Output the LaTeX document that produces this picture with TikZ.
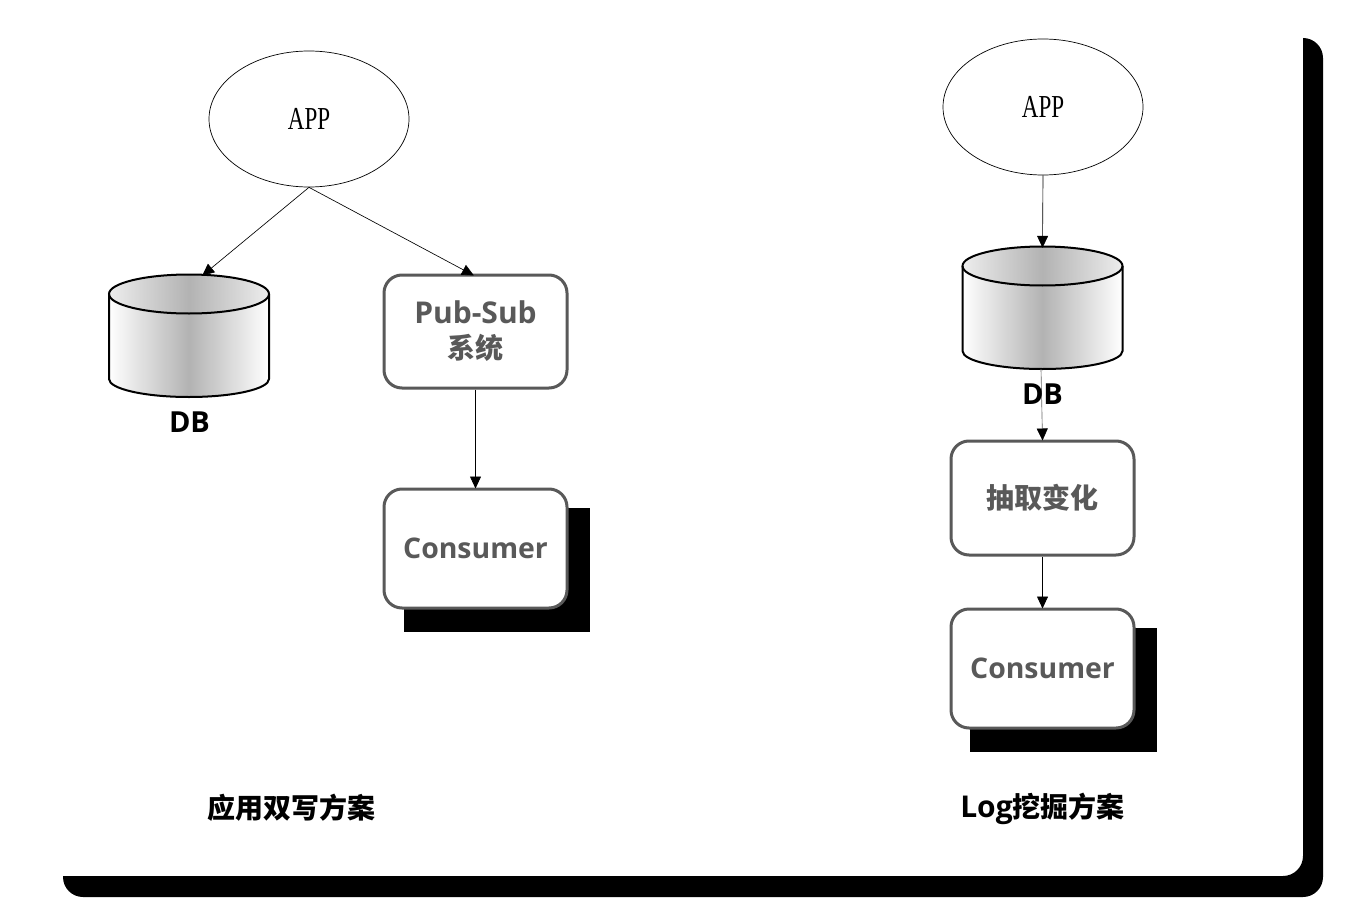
\documentclass[tikz,border=0pt]{standalone}
\usepackage{fontspec}
\setmainfont{Open Sans}
\newfontfamily\cjk{Noto Sans CJK SC}
\newfontfamily\appfont[FakeStretch=0.72]{Liberation Serif}
\usetikzlibrary{arrows.meta,shapes.geometric}
\definecolor{boxgrey}{HTML}{595959}
\tikzset{
  x=1pt,y=-1pt,
  conn/.style={draw=black,line width=0.65pt,shorten >=-1pt,-{Triangle[length=12pt,width=11pt,black]}},
  appnode/.style={ellipse,draw=black,line width=0.7pt,minimum width=200pt,minimum height=136pt,inner sep=0pt,font=\appfont\fontsize{32}{32}\selectfont},
  flowbox/.style={rectangle,rounded corners=18pt,draw=boxgrey,line width=3pt,fill=white,inner sep=0pt,text=boxgrey,align=center,font=\bfseries\fontsize{30}{36}\selectfont},
  dbzone/.style={rectangle,inner sep=0pt,minimum width=162pt,minimum height=122pt},
  dblabel/.style={inner sep=0pt,text=black,font=\bfseries\fontsize{29}{29}\selectfont},
  caption/.style={inner sep=0pt,text=black,font=\bfseries\fontsize{28}{28}\selectfont},
  cylinderline/.style={draw=black,line width=2pt},
}
\newcommand{\dbdrum}[2]{%
  % #1 = centre x, #2 = top y
  \begin{scope}[shift={(#1,#2)}]
    \path[left color=white,right color=white,middle color=black!30]
      (-80,19) -- (-80,104) arc[start angle=180,end angle=360,x radius=80pt,y radius=18pt] -- (80,19) -- cycle;
    \path[left color=black!7,right color=black!7,middle color=black!30]
      (0,19) ellipse[x radius=80pt,y radius=19.5pt];
    \draw[cylinderline] (-80,19) -- (-80,104) arc[start angle=180,end angle=360,x radius=80pt,y radius=18pt] -- (80,19);
    \draw[cylinderline] (0,19) ellipse[x radius=80pt,y radius=19.5pt];
  \end{scope}}
\begin{document}
\begin{tikzpicture}
\useasboundingbox (0,0) rectangle (1351,912);
\fill[white] (0,0) rectangle (1351,912);

% frame shadow
\fill[black] (1303,38) arc[start angle=90,end angle=0,radius=20pt] -- (1323,877)
  arc[start angle=0,end angle=-90,radius=20pt] -- (83,897)
  arc[start angle=-90,end angle=-180,radius=20pt] -- (63,876) -- (1283,876)
  arc[start angle=-90,end angle=0,radius=20pt] -- cycle;

% left column
\node[appnode] (appa) at (309,119) {APP};
\dbdrum{189}{275}
\node[dbzone] (dba) at (189,336) {};
\node[dblabel] (dbla) at (189.5,422) {DB};
\coordinate (dbatip) at (203,275);
\coordinate (subtip) at (473,275);
\fill[black] (404,508) rectangle (590,632);
\node[flowbox,minimum width=183pt,minimum height=113pt] (sub) at (475.5,331.5) {\raisebox{2pt}{Pub-Sub}\\[-3pt]{\cjk\bfseries\fontsize{28}{30}\selectfont 系统}};
\node[flowbox,minimum width=183pt,minimum height=119pt,font=\bfseries\fontsize{28.4}{34}\selectfont] (cona) at (475.5,548.5) {\raisebox{1pt}{Consumer}};

\draw[conn] (appa.south) -- (dbatip);
\draw[conn] (appa.south) -- (subtip);
\draw[conn] (sub.south) -- (cona.north);

% right column
\node[appnode] (appb) at (1043,107) {APP};
\dbdrum{1042.5}{247}
\node[dbzone] (dbb) at (1042.5,308) {};
\fill[black] (970,628) rectangle (1157,752);
\node[flowbox,minimum width=183pt,minimum height=114pt] (ext) at (1042.5,498) {{\cjk\bfseries\fontsize{28}{30}\selectfont 抽取变化}};
\node[flowbox,minimum width=183pt,minimum height=119pt,font=\bfseries\fontsize{28.4}{34}\selectfont] (conb) at (1042.5,668.5) {\raisebox{1pt}{Consumer}};
\draw[conn,draw=black!60] ([xshift=-1.5pt]dbb.south) -- (ext.north);
\node[dblabel] (dblb) at (1042.5,394.5) {DB};
\draw[conn] (appb.south) -- (dbb.north);
\draw[conn] (ext.south) -- (conb.north);

% captions
\node[caption] (capa) at (291.5,808) {\cjk\bfseries 应用双写方案};
\node[caption] (capb) at (1042.5,809) {{\fontsize{30}{30}\selectfont Log}{\cjk\bfseries 挖掘方案}};
\end{tikzpicture}
\end{document}
